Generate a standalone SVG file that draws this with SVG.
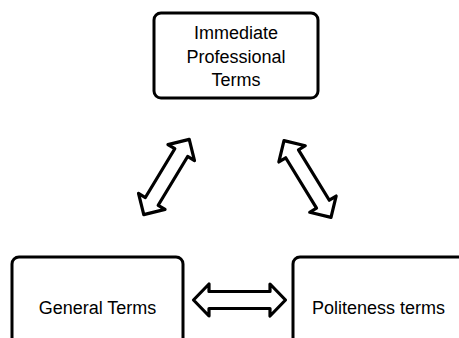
<svg xmlns="http://www.w3.org/2000/svg" width="459" height="338" viewBox="0 0 459 338">
<style>
.box{fill:#fff;stroke:#000;stroke-width:3}
.arr{fill:#fff;stroke:#000;stroke-width:3.2;stroke-linejoin:round}
text{font-family:"Liberation Sans",Arial,sans-serif;font-size:18px;fill:#000;text-anchor:middle}
</style>
<rect width="459" height="338" fill="#fff"/>
<g id="connectors">
<path class="arr" transform="translate(166.5,177) rotate(-58.9)" d="M -44 0 L -28.5 -15.5 L -28.5 -7.5 L 28.5 -7.5 L 28.5 -15.5 L 44 0 L 28.5 15.5 L 28.5 7.5 L -28.5 7.5 L -28.5 15.5 Z"/>
<path class="arr" transform="translate(307.5,179) rotate(58.5)" d="M -45 0 L -29.5 -15.5 L -29.5 -7.5 L 29.5 -7.5 L 29.5 -15.5 L 45 0 L 29.5 15.5 L 29.5 7.5 L -29.5 7.5 L -29.5 15.5 Z"/>
<path class="arr" transform="translate(239.5,300)" d="M -46 0 L -30.5 -16 L -30.5 -8.5 L 30.5 -8.5 L 30.5 -16 L 46 0 L 30.5 16 L 30.5 8.5 L -30.5 8.5 L -30.5 16 Z"/>
</g>
<g id="immediate">
<rect class="box" x="154" y="13" width="164" height="85" rx="7"/>
<text x="236" y="39">Immediate</text>
<text x="236" y="63">Professional</text>
<text x="236" y="86">Terms</text>
</g>
<g id="general">
<rect class="box" x="12" y="257" width="171" height="95" rx="7"/>
<text x="97.5" y="314">General Terms</text>
</g>
<g id="politeness">
<rect class="box" x="293" y="257" width="180" height="95" rx="7"/>
<text x="378.5" y="314">Politeness terms</text>
</g>
</svg>
